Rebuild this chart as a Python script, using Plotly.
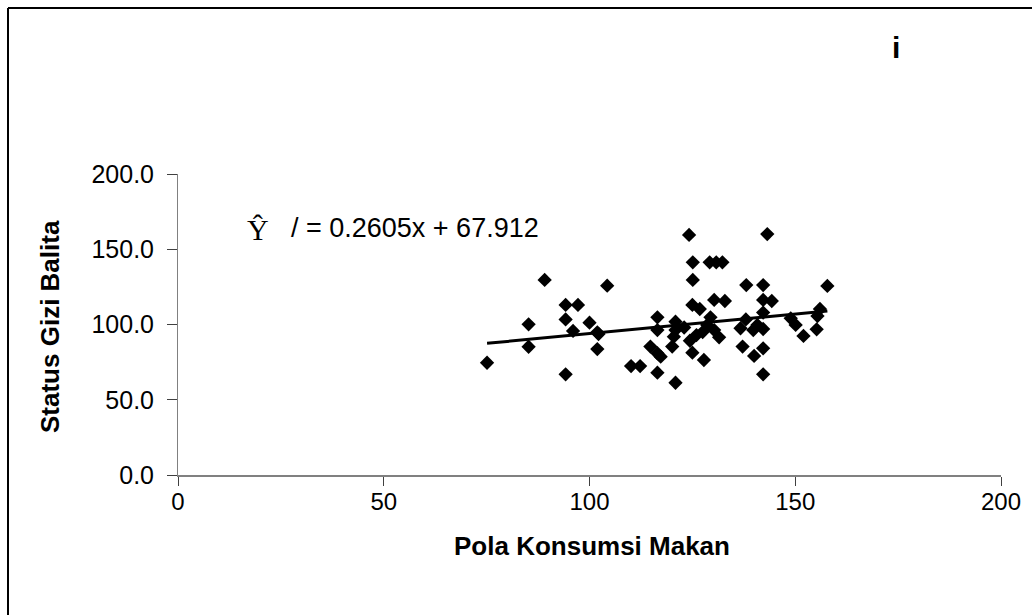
import plotly.graph_objects as go

# Data
pola_konsumsi = [75.1, 85.2, 85.2, 89.1, 94.2, 94.2, 94.2, 97.2, 96.0, 100.0,
                 101.9, 102.2, 101.9, 104.3, 110.1, 112.3, 114.8, 116.5, 116.5, 116.5,
                 117.3, 116.5, 120.1, 120.5, 120.9, 120.9, 120.9, 124.2, 125.1, 125.1,
                 125.0, 126.8, 124.4, 126.0, 125.0, 127.8, 128.6, 129.4, 129.2, 130.8,
                 132.3, 130.3, 132.9, 130.3, 131.5, 136.7, 137.2, 138.0, 138.1, 139.8,
                 140.0, 140.8, 142.2, 142.2, 144.3, 142.2, 142.2, 142.2, 142.2, 143.2,
                 148.9, 150.1, 152.0, 155.2, 155.4, 156.0, 157.8, 127.5, 123.0]
status_gizi = [74.6, 100.1, 85.2, 129.6, 113.0, 103.4, 66.9, 113.0, 95.7, 101.2,
               94.8, 93.7, 83.7, 125.8, 72.4, 72.4, 85.3, 104.8, 96.3, 80.9,
               78.6, 68.0, 85.3, 91.9, 101.9, 96.3, 61.3, 159.5, 141.3, 129.6,
               113.0, 110.3, 89.2, 93.0, 81.3, 76.4, 99.7, 104.8, 141.3, 141.3,
               141.3, 116.3, 115.6, 96.3, 91.5, 97.5, 85.3, 103.4, 126.2, 96.3,
               79.1, 99.7, 126.2, 116.3, 115.6, 107.9, 97.0, 84.2, 66.9, 160.1,
               104.1, 99.7, 92.4, 96.8, 105.6, 110.3, 125.6, 95.0, 98.0]

slope = 0.2605
intercept = 67.912
trend_x = [min(pola_konsumsi), max(pola_konsumsi)]
trend_y = [slope * v + intercept for v in trend_x]

x_ticks = [0, 50, 100, 150, 200]
y_ticks = [0, 50, 100, 150, 200]
y_tick_labels = ["0.0", "50.0", "100.0", "150.0", "200.0"]

FONT = "Liberation Sans, Arial, sans-serif"

fig = go.Figure()
fig.add_trace(go.Scatter(
    x=pola_konsumsi, y=status_gizi, mode="markers",
    marker=dict(symbol="diamond", size=11, color="black", line=dict(width=0)),
    showlegend=False, cliponaxis=False))
fig.add_trace(go.Scatter(
    x=trend_x, y=trend_y, mode="lines",
    line=dict(color="black", width=3), showlegend=False))

L, R, T, B = 178, 31, 174, 140
W, H = 1032, 615
pw, ph = W - L - R, H - T - B

def px(xp):
    return (xp - L) / pw

def py(yp):
    return (H - B - yp) / ph

fig.update_layout(
    width=W, height=H,
    margin=dict(l=L, r=R, t=T, b=B),
    paper_bgcolor="white", plot_bgcolor="white",
    font=dict(family=FONT, color="black", size=20),
    xaxis=dict(range=[0, 200], tickvals=x_ticks, ticktext=[str(v) for v in x_ticks],
               showgrid=False, zeroline=False, showline=True, linecolor="#808080",
               linewidth=2, ticks="outside", ticklen=9, tickcolor="#404040",
               tickwidth=1, tickfont=dict(size=24), ticklabelstandoff=-5),
    yaxis=dict(range=[0, 200], tickvals=y_ticks, ticktext=y_tick_labels,
               showgrid=False, zeroline=False, showline=True, linecolor="#808080",
               linewidth=1, ticks="outside", ticklen=10, tickcolor="#404040",
               tickwidth=1, tickfont=dict(size=25), ticklabelstandoff=8),
    shapes=[
        dict(type="line", xref="paper", yref="paper", x0=px(8), x1=px(8),
             y0=py(630), y1=py(8), line=dict(color="black", width=2)),
        dict(type="line", xref="paper", yref="paper", x0=px(8), x1=px(1045),
             y0=py(8), y1=py(8), line=dict(color="black", width=2)),
    ],
    annotations=[
        dict(text="<b>Pola Konsumsi Makan</b>", xref="paper", yref="paper",
             x=px(592), y=py(546), showarrow=False, font=dict(size=26),
             xanchor="center", yanchor="middle"),
        dict(text="<b>Status Gizi Balita</b>", xref="paper", yref="paper",
             x=px(50), y=py(327), showarrow=False, font=dict(size=26), textangle=-90,
             xanchor="center", yanchor="middle"),
        dict(text="Ŷ", xref="paper", yref="paper", x=px(258), y=py(229),
             showarrow=False, font=dict(size=30, family="Liberation Serif, Times New Roman, serif"),
             xanchor="center", yanchor="middle"),
        dict(text="/ = 0.2605x + 67.912", xref="paper", yref="paper",
             x=px(289), y=py(228), showarrow=False, font=dict(size=27),
             xanchor="left", yanchor="middle"),
        dict(text="<b>i</b>", xref="paper", yref="paper", x=px(896), y=py(48),
             showarrow=False, font=dict(size=30), xanchor="center", yanchor="middle"),
    ],
)

fig.write_html("out.html")
